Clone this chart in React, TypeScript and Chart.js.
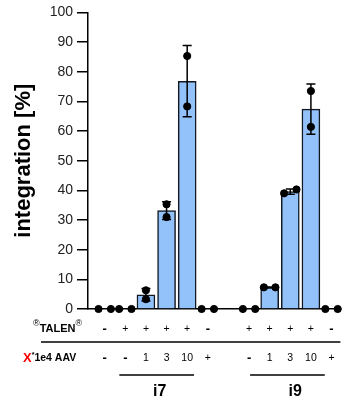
import React, { useEffect, useRef } from "react";
import { Chart, registerables } from "chart.js";

Chart.register(...registerables);

// ---- data ----
const columns = [1, 2, 3, 4, 5, 6, 7, 8, 9, 10, 11, 12];
const talenLabels = ["-", "+", "+", "+", "+", "-", "", "+", "+", "+", "+", "-"];
const aavLabels = ["-", "-", "1", "3", "10", "+", "", "-", "1", "3", "10", "+"];
const barColumns = [3, 4, 5, 9, 10, 11];
const barMeans = [4.8, 33.2, 76.8, 7.3, 39.6, 67.4];
const barSD = [2.1, 3.0, 12.0, 0.1, 0.9, 8.5];
const replicate1 = [0, 0, 6.3, 35.3, 85.3, 0, null, 0, 7.3, 39.0, 73.5, 0];
const replicate2 = [0, 0, 3.3, 31.0, 68.3, 0, null, 0, 7.3, 40.3, 61.4, 0];
const groupNames = ["i7", "i9"];
const groupSpans = [
  [1.71, 5.33],
  [8.05, 11.67],
];
const groupTextAt = [3.67, 10.24];
const yTicks = [0, 10, 20, 30, 40, 50, 60, 70, 80, 90, 100];

// horizontal spread of replicate dots (style)
const jitter = [0.3, 0.3, 0, 0, 0, 0.3, 0, 0.3, 0.28, 0.3, 0, 0.3];

const FONT = "'Liberation Sans', Arial, sans-serif";

export default function App() {
  const ref = useRef<HTMLCanvasElement | null>(null);

  useEffect(() => {
    if (!ref.current) return;

    const points: { x: number; y: number }[] = [];
    columns.forEach((c, i) => {
      const a = replicate1[i];
      const b = replicate2[i];
      if (a !== null) points.push({ x: c - jitter[i], y: a });
      if (b !== null) points.push({ x: c + jitter[i], y: b });
    });

    const errorPlugin = {
      id: "errorBars",
      afterDatasetsDraw(chart: any) {
        const { ctx, scales } = chart;
        const xs = scales.x;
        const ys = scales.y;
        ctx.save();
        ctx.strokeStyle = "#000";
        ctx.lineWidth = 1.5;
        barColumns.forEach((c, i) => {
          const x = xs.getPixelForValue(c);
          const yt = ys.getPixelForValue(barMeans[i] + barSD[i]);
          const yb = ys.getPixelForValue(barMeans[i] - barSD[i]);
          ctx.beginPath();
          ctx.moveTo(x, yt);
          ctx.lineTo(x, yb);
          ctx.moveTo(x - 4.5, yt);
          ctx.lineTo(x + 4.5, yt);
          ctx.moveTo(x - 4.5, yb);
          ctx.lineTo(x + 4.5, yb);
          ctx.stroke();
        });
        ctx.restore();
      },
    };

    const drawSign = (ctx: any, t: string, x: number, y: number) => {
      if (!t) return;
      if (t === "-") {
        ctx.font = "bold 13px " + FONT;
      } else {
        ctx.font = "10.5px " + FONT;
      }
      ctx.fillText(t, x, y);
    };

    const labelPlugin = {
      id: "bottomLabels",
      afterDraw(chart: any) {
        const { ctx, scales, chartArea } = chart;
        const xs = scales.x;
        ctx.save();
        ctx.fillStyle = "#000";
        ctx.textBaseline = "middle";
        ctx.textAlign = "center";
        // row labels
        columns.forEach((c, i) => {
          const x = xs.getPixelForValue(c);
          drawSign(ctx, talenLabels[i], x, 329);
          drawSign(ctx, aavLabels[i], x, 358);
        });
        // left row titles
        ctx.textAlign = "left";
        let x = 33;
        ctx.font = "9px " + FONT;
        ctx.fillText("®", x, 324);
        x += ctx.measureText("®").width;
        ctx.font = "bold 11px " + FONT;
        ctx.fillText("TALEN", x, 329);
        x += ctx.measureText("TALEN").width;
        ctx.font = "9px " + FONT;
        ctx.fillText("®", x, 324);

        x = 23;
        ctx.fillStyle = "#ff0000";
        ctx.font = "bold 13px " + FONT;
        ctx.fillText("X", x, 358);
        x += ctx.measureText("X").width;
        ctx.fillStyle = "#000";
        ctx.font = "bold 7px " + FONT;
        ctx.fillText("*", x, 355);
        x += ctx.measureText("*").width;
        ctx.font = "bold 10.5px " + FONT;
        ctx.fillText("1e4 AAV", x, 358);

        // separator line
        ctx.strokeStyle = "#000";
        ctx.lineWidth = 1.5;
        ctx.beginPath();
        ctx.moveTo(41, 342);
        ctx.lineTo(chartArea.right, 342);
        ctx.stroke();

        // group lines + names
        groupNames.forEach((g, i) => {
          const x0 = xs.getPixelForValue(groupSpans[i][0]);
          const x1 = xs.getPixelForValue(groupSpans[i][1]);
          ctx.beginPath();
          ctx.moveTo(x0, 375);
          ctx.lineTo(x1, 375);
          ctx.stroke();
          ctx.font = "bold 16px " + FONT;
          ctx.textAlign = "center";
          ctx.fillText(g, xs.getPixelForValue(groupTextAt[i]), 392);
        });
        ctx.restore();
      },
    };

    const chart = new Chart(ref.current, {
      type: "bar",
      data: {
        datasets: [
          {
            type: "scatter",
            data: points,
            backgroundColor: "#000",
            borderColor: "#000",
            pointRadius: 3.6,
            pointHoverRadius: 3.6,
            order: 1,
            clip: false,
          } as any,
          {
            type: "bar",
            data: barColumns.map((c, i) => ({ x: c, y: barMeans[i] })),
            backgroundColor: "#93C1FA",
            borderColor: "#111820",
            borderWidth: 1.5,
            barThickness: 18,
            order: 2,
            clip: false,
          } as any,
        ],
      },
      options: {
        animation: false,
        responsive: false,
        events: [],
        layout: { padding: { left: 0, right: 0, top: 12, bottom: 92 } },
        plugins: {
          legend: { display: false },
          tooltip: { enabled: false },
        },
        scales: {
          x: {
            type: "linear",
            min: 0.19,
            max: 12.43,
            offset: false,
            bounds: "ticks",
            ticks: { display: false },
            grid: { display: false, drawTicks: false, offset: false },
            border: { display: true, color: "#000", width: 1.5 },
            afterDataLimits: (s: any) => {
              s.min = 0.19;
              s.max = 12.43;
            },
            afterFit: (s: any) => {
              s.height = 0;
            },
          },
          y: {
            type: "linear",
            min: 0,
            max: 100,
            afterBuildTicks: (s: any) => {
              s.ticks = yTicks.map((v) => ({ value: v }));
            },
            ticks: {
              color: "#222",
              font: { family: FONT, size: 14 },
              padding: 4,
            },
            grid: {
              drawOnChartArea: false,
              drawTicks: true,
              tickLength: 11,
              color: "#000",
              lineWidth: 1.5,
            },
            border: { display: true, color: "#000", width: 1.5 },
            title: {
              display: true,
              text: "integration [%]",
              color: "#000",
              font: { family: FONT, size: 22, weight: "bold" },
              padding: { top: 11, bottom: 0 },
            },
            afterFit: (s: any) => {
              s.width = 88;
            },
          },
        },
      },
      plugins: [errorPlugin, labelPlugin],
    });

    return () => chart.destroy();
  }, []);

  return (
    <div style={{ position: "fixed", left: 0, top: 0, width: 345, height: 401, background: "#fff" }}>
      <canvas ref={ref} width={345} height={401} style={{ display: "block" }} />
    </div>
  );
}
